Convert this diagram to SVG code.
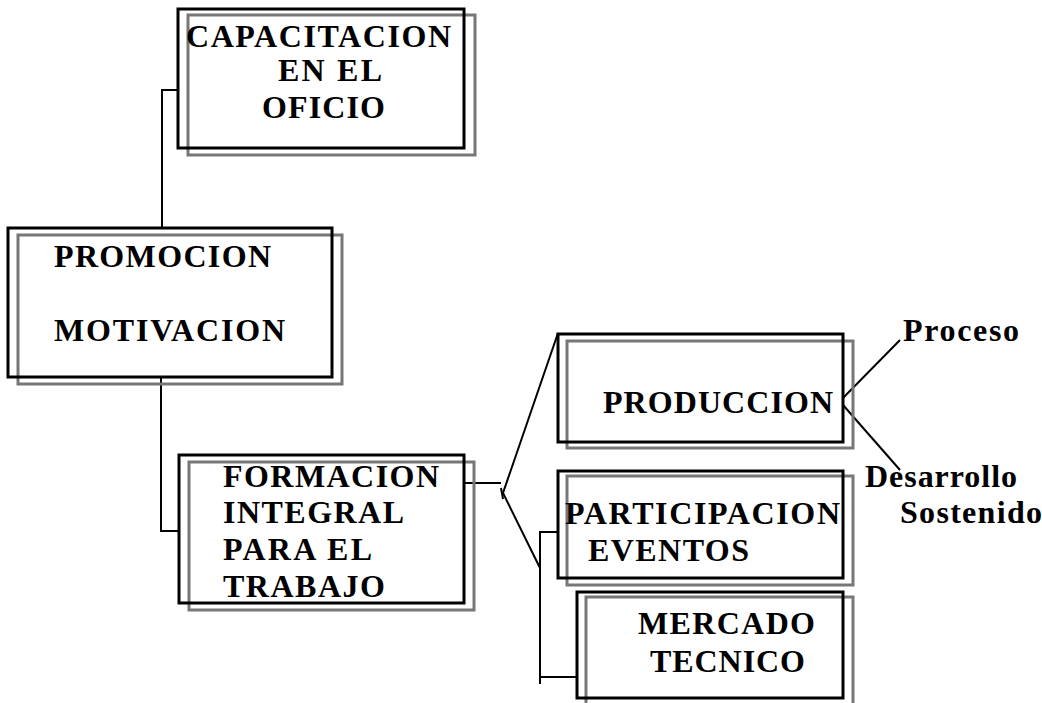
<svg xmlns="http://www.w3.org/2000/svg" width="1042" height="703" viewBox="0 0 1042 703">
<style>
.box{fill:none;stroke:#000;stroke-width:3}
.sh{fill:none;stroke:#777;stroke-width:3;filter:url(#blur)}
.c{fill:none;stroke:#000;stroke-width:2}
</style>
<defs>
<filter id="blur" x="-5%" y="-5%" width="110%" height="110%"><feGaussianBlur stdDeviation="0.7"/></filter>
</defs>
<rect width="1042" height="703" fill="#fff"/>
<g id="connectors">
<polyline class="c" points="178,90 162,90 162,228"/>
<polyline class="c" points="161,377 161,531 179,531"/>
<line class="c" x1="464" y1="483" x2="501" y2="483"/>
<polyline class="c" points="558,333 503,493 540,568"/>
<line class="c" x1="501" y1="488" x2="503" y2="499"/>
<polyline class="c" points="558,532 540,532 540,684"/>
<line class="c" x1="540" y1="677" x2="577" y2="677"/>
<line class="c" x1="843" y1="398" x2="900" y2="340"/>
<line class="c" x1="843" y1="405" x2="900" y2="470"/>
</g>
<g font-family="Liberation Serif, serif" font-weight="bold" font-size="32" fill="#000" lengthAdjust="spacing">
<g id="capacitacion">
<rect class="sh" x="188" y="15" width="287" height="140"/>
<rect class="box" x="178" y="9" width="286" height="139"/>
<text x="186" y="47" textLength="265" lengthAdjust="spacing">CAPACITACION</text>
<text x="278" y="81" textLength="104" lengthAdjust="spacing">EN EL</text>
<text x="262" y="118" textLength="123" lengthAdjust="spacing">OFICIO</text>
</g>
<g id="promocion">
<rect class="sh" x="18" y="235" width="324" height="149"/>
<rect class="box" x="8" y="228" width="324" height="149"/>
<text x="54" y="267" textLength="217" lengthAdjust="spacing">PROMOCION</text>
<text x="54" y="341" textLength="231" lengthAdjust="spacing">MOTIVACION</text>
</g>
<g id="formacion">
<rect class="sh" x="189" y="462" width="285" height="148"/>
<rect class="box" x="179" y="455" width="285" height="148"/>
<text x="223" y="487" textLength="216" lengthAdjust="spacing">FORMACION</text>
<text x="223" y="523" textLength="181" lengthAdjust="spacing">INTEGRAL</text>
<text x="223" y="560" textLength="149" lengthAdjust="spacing">PARA EL</text>
<text x="223" y="597" textLength="162" lengthAdjust="spacing">TRABAJO</text>
</g>
<g id="produccion">
<rect class="sh" x="567" y="341" width="286" height="107"/>
<rect class="box" x="558" y="334" width="285" height="108"/>
<text x="603" y="413" textLength="230" lengthAdjust="spacing">PRODUCCION</text>
</g>
<g id="participacion">
<rect class="sh" x="567" y="476" width="286" height="109"/>
<rect class="box" x="558" y="471" width="285" height="107"/>
<text x="565" y="524" textLength="275" lengthAdjust="spacing">PARTICIPACION</text>
<text x="588" y="561" textLength="161" lengthAdjust="spacing">EVENTOS</text>
</g>
<g id="mercado">
<rect class="sh" x="586" y="597" width="267" height="113"/>
<rect class="box" x="577" y="592" width="266" height="106"/>
<text x="638" y="634" textLength="177" lengthAdjust="spacing">MERCADO</text>
<text x="650" y="672" textLength="155" lengthAdjust="spacing">TECNICO</text>
</g>
<g id="proceso">
<text x="903" y="341" textLength="116" lengthAdjust="spacing">Proceso</text>
</g>
<g id="desarrollo">
<text x="865" y="487" textLength="152" lengthAdjust="spacing">Desarrollo</text>
<text x="900" y="523" textLength="142" lengthAdjust="spacing">Sostenido</text>
</g>
</g>
</svg>
